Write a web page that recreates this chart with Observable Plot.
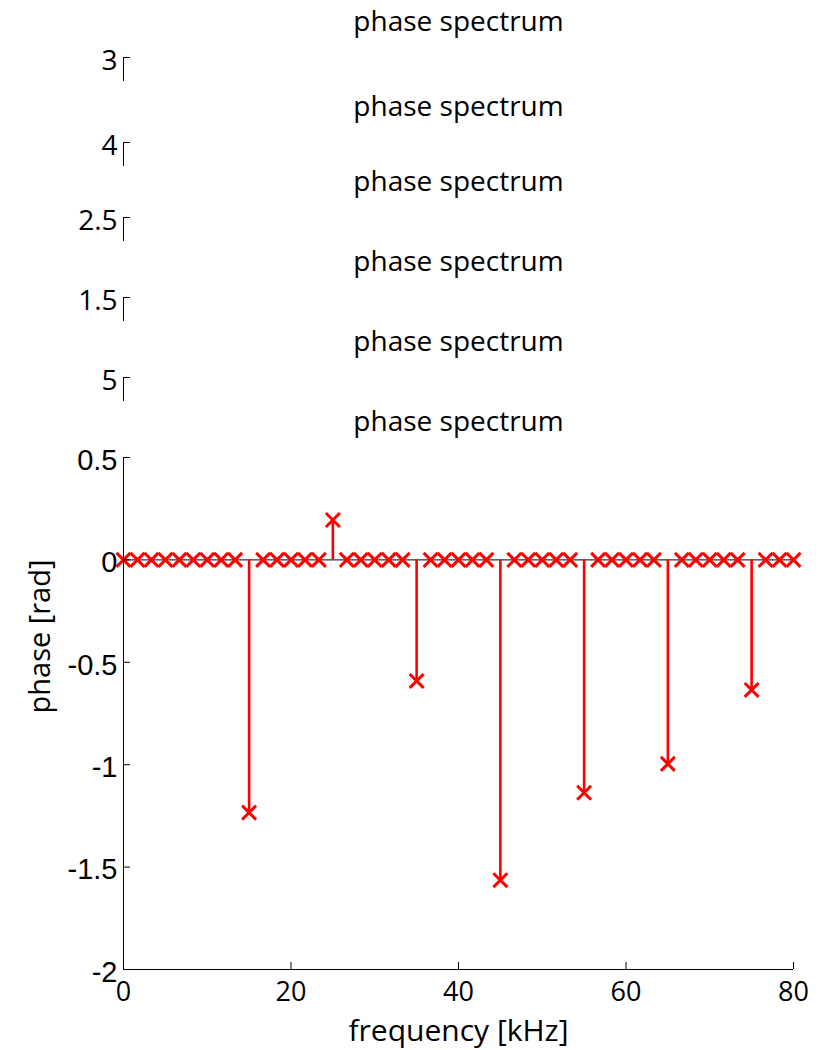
<!DOCTYPE html>
<html><head><meta charset="utf-8">
<script src="https://cdn.jsdelivr.net/npm/d3@7"></script>
<script src="https://cdn.jsdelivr.net/npm/@observablehq/plot@0.6"></script>
<style>body{margin:0;background:#fff} #chart svg{display:block}</style>
</head><body><div id="chart"></div>
<script>
const titleText = "phase spectrum";
const stubTicks = [3, 4, 2.5, 1.5, 5];
const frequency = [0, 1.67, 3.33, 5, 6.67, 8.33, 10, 11.67, 13.33, 15, 16.67, 18.33, 20, 21.67, 23.33, 25,
  26.67, 28.33, 30, 31.67, 33.33, 35, 36.67, 38.33, 40, 41.67, 43.33, 45, 46.67, 48.33, 50, 51.67, 53.33, 55,
  56.67, 58.33, 60, 61.67, 63.33, 65, 66.67, 68.33, 70, 71.67, 73.33, 75, 76.67, 78.33, 80];
const phase = [0, 0, 0, 0, 0, 0, 0, 0, 0, -1.234, 0, 0, 0, 0, 0, 0.195,
  0, 0, 0, 0, 0, -0.591, 0, 0, 0, 0, 0, -1.564, 0, 0, 0, 0, 0, -1.137,
  0, 0, 0, 0, 0, -0.996, 0, 0, 0, 0, 0, -0.635, 0, 0, 0];
const yTicks = [0.5, 0, -0.5, -1, -1.5, -2];
const xTicks = [0, 20, 40, 60, 80];
const xLabel = "frequency [kHz]";
const yLabel = "phase [rad]";

const W = 819, ML = 123, MR = 26, TOP = 57;
const stubHeights = [85, 75, 80, 80, 80];
const comic = "'Comic Sans MS', 'Open Sans', sans-serif";
const helv = "'Liberation Sans', Arial, sans-serif";
const red = "#ff0000";
const chart = document.getElementById("chart");
const fmt = d => String(d);

stubTicks.forEach((v, i) => {
  const h = stubHeights[i];
  const svg = Plot.plot({
    width: W, height: h, marginLeft: ML, marginRight: MR, marginTop: TOP, marginBottom: h - TOP - 24,
    x: {domain: [0, 80], axis: null},
    y: {domain: [v - 1, v]},
    style: {background: "transparent", overflow: "visible", color: "black"},
    marks: [
      Plot.ruleX([0], {stroke: "black", strokeWidth: 1}),
      Plot.axisY({ticks: [v], tickFormat: () => "", tickSize: -7, label: null}),
      Plot.axisY({ticks: [v], tickFormat: fmt, tickSize: 0, tickPadding: 6, dy: 4, fontSize: 28, fontFamily: comic, label: null}),
      Plot.text([titleText], {text: d => d, frameAnchor: "top", lineAnchor: "middle", dy: -35, fontSize: 28, fontFamily: comic, fill: "black"})
    ]
  });
  chart.append(svg);
});

const data = frequency.map((f, i) => ({f, p: phase[i]}));
const main = Plot.plot({
  width: W, height: 650, marginLeft: ML, marginRight: MR, marginTop: TOP, marginBottom: 81,
  x: {domain: [0, 80]},
  y: {domain: [-2, 0.5]},
  style: {background: "white", overflow: "visible", color: "black"},
  marks: [
    Plot.ruleY([0], {stroke: "black", strokeWidth: 1}),
    Plot.ruleX(data.filter(d => d.p !== 0), {x: "f", y1: 0, y2: "p", stroke: red, strokeWidth: 2.6}),
    Plot.dot(data, {x: "f", y: "p", symbol: "times", r: 6.4, stroke: red, strokeWidth: 3}),
    Plot.ruleX([0], {stroke: "black", strokeWidth: 1}),
    Plot.ruleY([-2], {stroke: "black", strokeWidth: 1}),
    Plot.axisY({ticks: yTicks, tickFormat: () => "", tickSize: -7, label: null}),
    Plot.axisY({ticks: yTicks, tickFormat: fmt, tickSize: 0, tickPadding: 6, dy: 3, fontSize: 29, fontFamily: helv, label: null}),
    Plot.axisX({ticks: xTicks, tickFormat: () => "", tickSize: -7, label: null}),
    Plot.axisX({ticks: xTicks, tickFormat: fmt, tickSize: 0, tickPadding: 12, fontSize: 27, fontFamily: comic, label: null}),
    Plot.text([titleText], {text: d => d, frameAnchor: "top", lineAnchor: "middle", dy: -35, fontSize: 28, fontFamily: comic, fill: "black"}),
    Plot.text([xLabel], {text: d => d, frameAnchor: "bottom", lineAnchor: "middle", dy: 62, fontSize: 30, fontFamily: comic, fill: "black"}),
    Plot.text([yLabel], {text: d => d, frameAnchor: "left", lineAnchor: "middle", dx: -83, rotate: -90, fontSize: 29, fontFamily: comic, fill: "black"})
  ]
});
chart.append(main);
</script>
</body></html>
